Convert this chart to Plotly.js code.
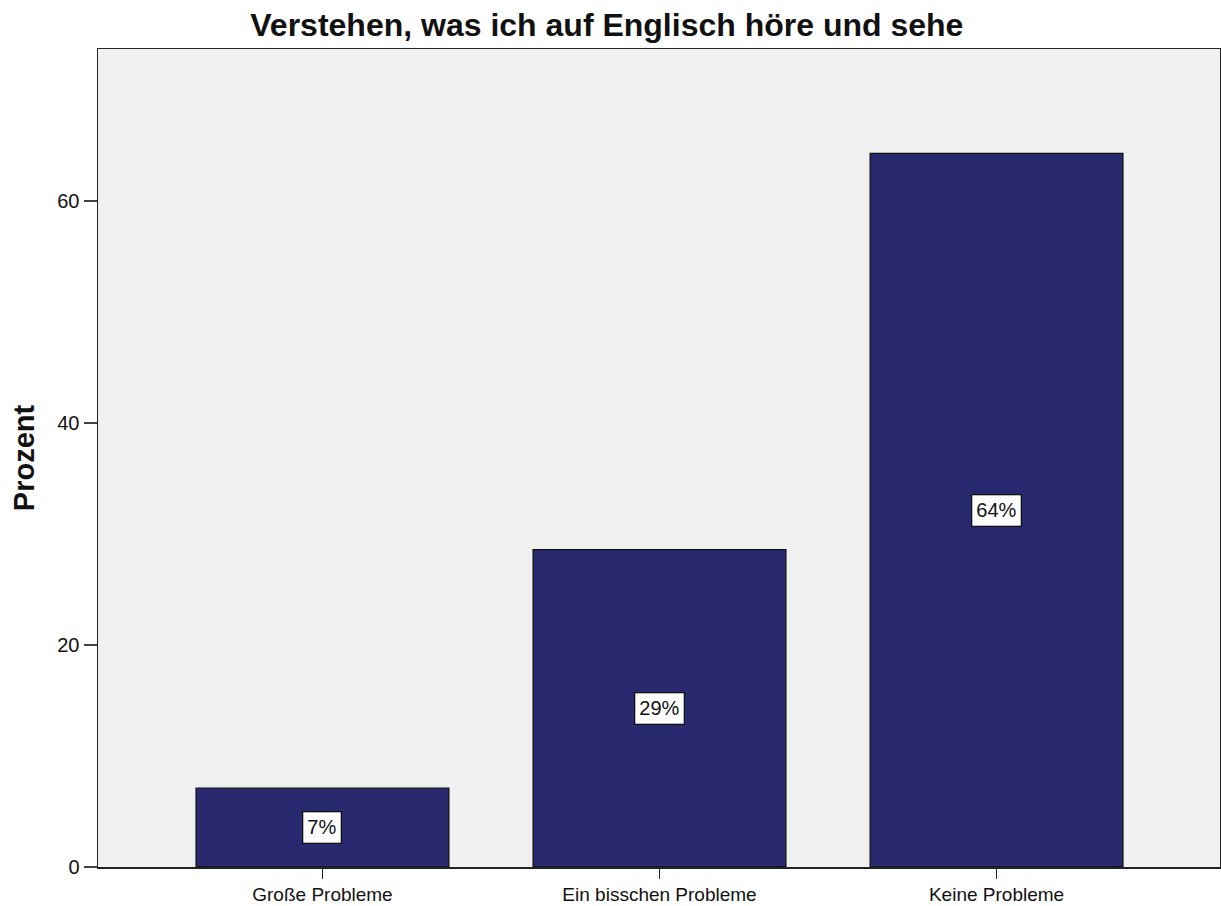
<!DOCTYPE html>
<html>
<head>
<meta charset="utf-8">
<script src="https://cdn.plot.ly/plotly-3.0.1.min.js"></script>
<style>html,body{margin:0;padding:0;background:#fff;}#chart{width:1221px;height:906px;}</style>
</head>
<body>
<div id="chart"></div>
<script>
const categories = ["Große Probleme", "Ein bisschen Probleme", "Keine Probleme"];
const percentValues = [7.1, 28.6, 64.3];
const percentLabels = ["7%", "29%", "64%"];
const yTickValues = [0, 20, 40, 60];

const FONT = "Liberation Sans, Arial, sans-serif";

const trace = {
  type: "bar",
  x: categories,
  y: percentValues,
  width: 0.75,
  marker: {color: "#29296f", line: {color: "#111111", width: 1.3}},
  hoverinfo: "skip"
};

const annotations = categories.map((c, i) => ({
  x: c,
  y: percentValues[i] / 2,
  xref: "x",
  yref: "y",
  text: percentLabels[i],
  showarrow: false,
  font: {family: FONT, size: 20, color: "#111"},
  bgcolor: "#ffffff",
  bordercolor: "#111111",
  borderwidth: 1.3,
  borderpad: 4
}));

const layout = {
  width: 1221,
  height: 906,
  margin: {l: 98, r: 1, t: 49, b: 39},
  paper_bgcolor: "#ffffff",
  plot_bgcolor: "#f0f0f0",
  showlegend: false,
  title: {
    text: "<b>Verstehen, was ich auf Englisch höre und sehe</b>",
    font: {family: FONT, size: 32, color: "#111"},
    x: 0.497,
    xanchor: "center",
    y: 0.973,
    yanchor: "middle"
  },
  xaxis: {
    type: "category",
    range: [-0.666, 2.663],
    showgrid: false,
    zeroline: false,
    showline: true,
    linecolor: "#222",
    linewidth: 1.5,
    mirror: true,
    ticks: "outside",
    ticklen: 10,
    tickwidth: 1.3,
    tickcolor: "#222",
    tickfont: {family: FONT, size: 19, color: "#111"}
  },
  yaxis: {
    range: [0, 73.7],
    tickvals: yTickValues,
    showgrid: false,
    zeroline: false,
    showline: true,
    linecolor: "#222",
    linewidth: 1.5,
    mirror: true,
    ticks: "outside",
    ticklen: 13,
    tickwidth: 1.3,
    tickcolor: "#444",
    tickfont: {family: FONT, size: 20, color: "#111"},
    title: {
      text: "<b>Prozent</b>",
      font: {family: FONT, size: 29, color: "#111"},
      standoff: 14
    }
  },
  annotations: annotations
};

Plotly.newPlot("chart", [trace], layout, {displayModeBar: false, staticPlot: true});
</script>
</body>
</html>
